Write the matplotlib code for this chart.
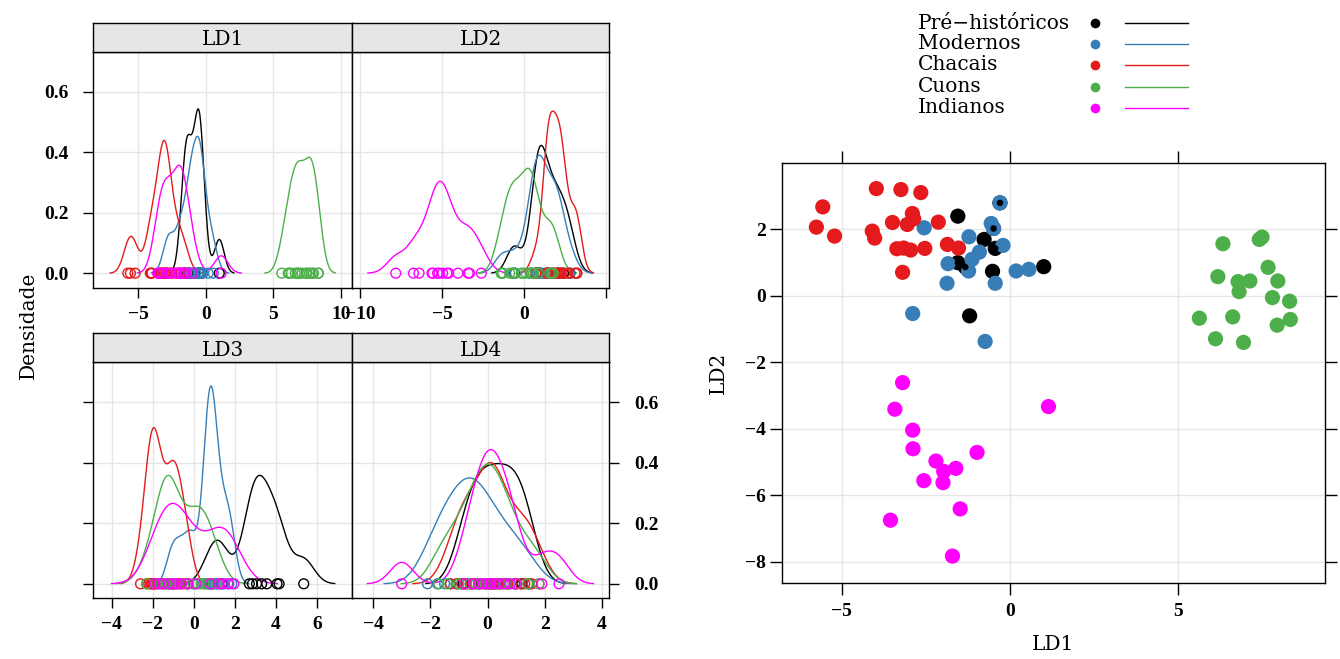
import numpy as np
import matplotlib.pyplot as plt
from matplotlib.lines import Line2D

plt.rcParams['font.family'] = ['DejaVu Serif']

W, H = 1340, 659

groups = ["Pré−históricos", "Modernos", "Chacais", "Cuons", "Indianos"]
colors = ["black", "#377EB8", "#E41A1C", "#4DAF4A", "#FF00FF"]

# discriminant scores per group
ld1_pre = [-1.55, -0.77, -0.44, -1.55, -1.33, -0.52, -1.20, 1.00, -0.30, -0.49]
ld2_pre = [2.40, 1.70, 1.43, 1.00, 0.87, 0.74, -0.60, 0.88, 2.80, 2.03]
ld3_pre = [0.9, 1.35, 2.7, 2.85, 3.05, 3.3, 3.55, 4.05, 4.15, 5.35]
ld4_pre = [-0.85, -0.55, -0.3, -0.05, 0.2, 0.45, 0.7, 0.95, 1.2, 1.45]

ld1_mod = [-2.55, -0.30, -0.56, -0.49, -1.22, -0.91, -1.13, -1.23, -0.21, -1.84,
           -1.87, -0.44, 0.18, 0.56, -2.89, -0.74]
ld2_mod = [2.05, 2.80, 2.18, 2.03, 1.78, 1.32, 1.10, 0.75, 1.52, 0.97,
           0.38, 0.38, 0.75, 0.80, -0.53, -1.37]
ld3_mod = [-1.1, -0.7, -0.3, 0.0, 0.5, 0.62, 0.7, 0.76, 0.82, 0.88,
           0.95, 1.05, 1.2, 1.45, 1.65, 1.85]
ld4_mod = [-2.1, -1.75, -1.5, -1.3, -1.1, -0.9, -0.75, -0.6, -0.45, -0.3,
           -0.1, 0.1, 0.35, 0.65, 1.0, 1.45]

ld1_cha = [-3.97, -3.24, -2.65, -5.56, -5.75, -5.21, -4.09, -4.02, -3.49, -2.90,
           -2.86, -3.05, -2.13, -3.36, -3.16, -2.95, -2.53, -3.19, -1.86, -1.53]
ld2_cha = [3.23, 3.20, 3.11, 2.68, 2.07, 1.80, 1.95, 1.74, 2.21, 2.48,
           2.32, 2.15, 2.22, 1.42, 1.44, 1.38, 1.43, 0.71, 1.55, 1.44]
ld3_cha = [-2.6, -2.3, -2.2, -2.1, -2.05, -2.0, -1.95, -1.9, -1.8, -1.65,
           -1.5, -1.35, -1.15, -1.05, -0.98, -0.9, -0.8, -0.65, -0.45, -0.3]
ld4_cha = [-1.3, -1.05, -0.9, -0.75, -0.6, -0.45, -0.25, -0.05, 0.05, 0.12,
           0.18, 0.25, 0.32, 0.45, 0.7, 1.0, 1.15, 1.3, 1.55, 1.8]

ld1_cuo = [6.32, 7.40, 7.48, 7.66, 6.17, 6.77, 7.12, 6.80, 7.95, 7.79,
           8.30, 5.62, 6.61, 8.32, 7.93, 6.10, 6.93]
ld2_cuo = [1.57, 1.70, 1.77, 0.86, 0.58, 0.43, 0.45, 0.13, 0.45, -0.05,
           -0.16, -0.67, -0.63, -0.71, -0.88, -1.29, -1.40]
ld3_cuo = [-2.3, -1.85, -1.6, -1.45, -1.35, -1.28, -1.2, -1.1, -0.9, -0.6,
           -0.3, -0.05, 0.2, 0.35, 0.5, 0.75, 1.1]
ld4_cuo = [-1.7, -1.4, -1.0, -0.8, -0.6, -0.4, -0.25, -0.1, 0.0, 0.1,
           0.25, 0.4, 0.55, 0.75, 1.0, 1.4, 1.8]

ld1_ind = [-3.19, -3.42, -2.89, -2.88, -2.20, -1.97, -1.61, -0.98, -2.56, -1.99,
           -1.48, -3.55, -1.71, 1.14]
ld2_ind = [-2.61, -3.41, -4.04, -4.60, -4.97, -5.28, -5.19, -4.71, -5.56, -5.62,
           -6.41, -6.75, -7.83, -3.33]
ld3_ind = [-1.9, -1.7, -1.5, -1.2, -1.0, -0.85, -0.6, -0.3, 0.1, 0.8,
           1.2, 1.4, 1.7, 1.95]
ld4_ind = [-3.0, -0.8, -0.5, -0.3, -0.15, 0.0, 0.12, 0.25, 0.4, 0.6,
           0.8, 1.0, 1.9, 2.5]

scores = {
    "LD1": [ld1_pre, ld1_mod, ld1_cha, ld1_cuo, ld1_ind],
    "LD2": [ld2_pre, ld2_mod, ld2_cha, ld2_cuo, ld2_ind],
    "LD3": [ld3_pre, ld3_mod, ld3_cha, ld3_cuo, ld3_ind],
    "LD4": [ld4_pre, ld4_mod, ld4_cha, ld4_cuo, ld4_ind],
}

GRID = "#E6E6E6"
TEXT_FS = 14.5
tick_font = dict(family="Liberation Serif", weight="bold", size=14)


def kde_curve(x, n_grid=512):
    # gaussian kernel, Silverman bandwidth, evaluated over range +/- 3 bw
    x = np.asarray(x, float)
    q75, q25 = np.percentile(x, [75, 25])
    spread = min(x.std(ddof=1), (q75 - q25) / 1.34)
    bw = 0.9 * spread * len(x) ** -0.2
    grid = np.linspace(x.min() - 3 * bw, x.max() + 3 * bw, n_grid)
    z = (grid[:, None] - x[None, :]) / bw
    dens = np.exp(-0.5 * z ** 2).sum(axis=1) / (len(x) * bw * np.sqrt(2 * np.pi))
    return grid, dens


def px_axes(fig, x0, y0, x1, y1, **kw):
    return fig.add_axes([x0 / W, 1 - y1 / H, (x1 - x0) / W, (y1 - y0) / H], **kw)


def fmt(v):
    return f"{v:g}".replace("-", "\u2212")


fig = plt.figure(figsize=(W / 100, H / 100), dpi=100)

# density panels: (name, box, x limits, x ticks, labelled x ticks, y side)
panels = [
    ("LD1", (93.3, 51.5, 352, 287.7), (-8.3, 10.8), [-5, 0, 5, 10], [-5, 0, 5, 10], "left"),
    ("LD2", (352, 51.5, 609.3, 287.7), (-10.5, 5.2), [-10, -5, 0, 5], [-10, -5, 0], None),
    ("LD3", (93.3, 362.3, 352, 598.3), (-4.9, 7.7), [-4, -2, 0, 2, 4, 6], [-4, -2, 0, 2, 4, 6], "left_nolabel"),
    ("LD4", (352, 362.3, 609.3, 598.3), (-4.74, 4.26), [-4, -2, 0, 2, 4], [-4, -2, 0, 2, 4], "right"),
]
yticks = [0.0, 0.2, 0.4, 0.6]

for name, (x0, y0, x1, y1), xlim, xt, xt_lab, yside in panels:
    ax = px_axes(fig, x0, y0, x1, y1)
    for v in xt:
        ax.axvline(v, color=GRID, lw=1, zorder=0)
    for v in yticks:
        ax.axhline(v, color=GRID, lw=1, zorder=0)
    for vals, col in zip(scores[name], colors):
        gx, gy = kde_curve(vals)
        ax.plot(gx, gy, color=col, lw=1, zorder=2)
        ax.scatter(vals, np.zeros(len(vals)), s=50, facecolors="none",
                   edgecolors=col, linewidths=1, zorder=3)
    ax.set_xlim(*xlim)
    ax.set_ylim(-0.048, 0.733)
    ax.set_xticks(xt)
    ax.set_xticklabels([fmt(v) if v in xt_lab else "" for v in xt], fontdict=tick_font)
    ax.tick_params(axis="x", direction="out", length=7, width=1, pad=6)
    if yside is None:
        ax.set_yticks([])
    else:
        ax.set_yticks(yticks)
        if yside == "left_nolabel":
            ax.set_yticklabels([])
        else:
            ax.set_yticklabels([f"{v:.1f}" for v in yticks], fontdict=tick_font)
        if yside == "right":
            ax.yaxis.tick_right()
        ax.tick_params(axis="y", direction="out", length=7, width=1, pad=11)
    for sp in ax.spines.values():
        sp.set_linewidth(1)

    # strip with panel name
    st = px_axes(fig, x0, y0 - 29, x1, y0)
    st.set_facecolor("#E6E6E6")
    st.set_xticks([])
    st.set_yticks([])
    for sp in st.spines.values():
        sp.set_linewidth(1)
    st.text(0.5, 0.42, name, ha="center", va="center", fontsize=TEXT_FS, transform=st.transAxes)

fig.text(28 / W, 1 - 325 / H, "Densidade", rotation=90, ha="center", va="center", fontsize=TEXT_FS)

# scatter of the first two discriminant functions
sc = px_axes(fig, 782, 163, 1325, 583)
for v in [-5, 0, 5]:
    sc.axvline(v, color=GRID, lw=1, zorder=0)
for v in [-8, -6, -4, -2, 0, 2]:
    sc.axhline(v, color=GRID, lw=1, zorder=0)
for x, y, col in zip(scores["LD1"], scores["LD2"], colors):
    sc.scatter(x, y, s=120, color=col, edgecolors="none", zorder=2)
sc.scatter(ld1_pre, ld2_pre, s=22, color=colors[0], edgecolors="none", zorder=3)
sc.set_xlim(-6.77, 9.35)
sc.set_ylim(-8.64, 4.0)
sc.set_xticks([-5, 0, 5])
sc.set_xticklabels([fmt(v) for v in [-5, 0, 5]], fontdict=tick_font)
sc.set_yticks([-8, -6, -4, -2, 0, 2])
sc.set_yticklabels([fmt(v) for v in [-8, -6, -4, -2, 0, 2]], fontdict=tick_font)
sc.tick_params(axis="both", direction="out", length=8.5, width=1,
               top=True, right=True, labeltop=False, labelright=False)
sc.tick_params(axis="x", pad=6)
sc.tick_params(axis="y", pad=3)
for sp in sc.spines.values():
    sp.set_linewidth(1)
sc.set_xlabel("LD1", fontsize=TEXT_FS, labelpad=11)
sc.set_ylabel("LD2", fontsize=TEXT_FS, labelpad=12)

# legend block above the scatter
row_y = [23.3, 43.9, 65.0, 86.6, 107.7]
for name, col, ry in zip(groups, colors, row_y):
    fy = 1 - ry / H
    fig.text(918 / W, fy, name, ha="left", va="center", fontsize=TEXT_FS)
    fig.add_artist(Line2D([1095 / W], [fy], marker="o", markersize=7, color=col,
                          markeredgewidth=0, transform=fig.transFigure))
    fig.add_artist(Line2D([1125 / W, 1188 / W], [fy, fy], color=col, lw=1,
                          transform=fig.transFigure))

fig.savefig("out.png", dpi=100)
